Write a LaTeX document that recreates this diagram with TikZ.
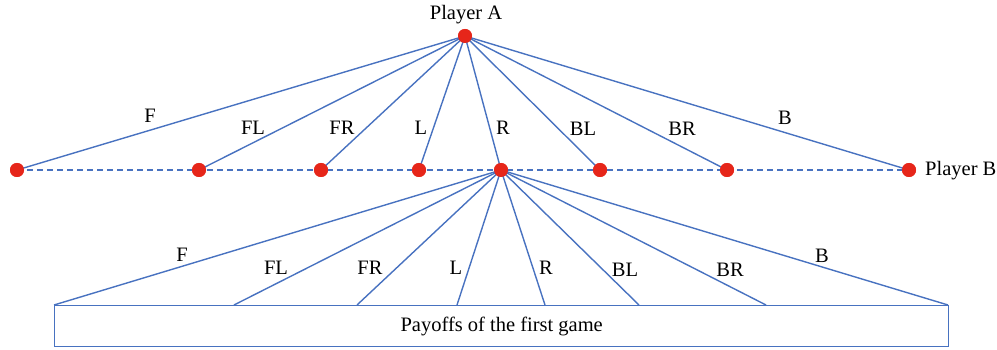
\documentclass[tikz,border=0pt]{standalone}
\usepackage{fontspec}
\setmainfont{Liberation Serif}
\begin{document}
\begin{tikzpicture}[x=1pt,y=-1pt,
  dot/.style={circle,fill=dotred,inner sep=0pt,minimum size=14pt},
  edge/.style={draw=lineblue,line width=1.4pt},
  lbl/.style={font=\fontsize{20.5}{24}\selectfont,inner sep=0pt},
  payoffbox/.style={draw=lineblue,line width=1.4pt,fill=white,minimum width=894pt,minimum height=41pt,inner sep=0pt,font=\fontsize{20.5}{24}\selectfont}]
\definecolor{lineblue}{RGB}{72,114,192}
\definecolor{dotred}{RGB}{230,38,26}
\useasboundingbox (0,0) rectangle (997,350);
% payoff box
\node[payoffbox,anchor=north west] (box) at (54,305) {Payoffs of the first game};
\coordinate (p1) at (54,305);
\coordinate (p2) at (234,305);
\coordinate (p3) at (357,305);
\coordinate (p4) at (457,305);
\coordinate (p5) at (545,305);
\coordinate (p6) at (639,305);
\coordinate (p7) at (766,305);
\coordinate (p8) at (948,305);
% nodes
\node[dot] (A) at (465,36) {};
\node[lbl] (Alab) at (466,15) {Player A};
\node[dot] (b1) at (17,170) {};
\node[dot] (b2) at (199,170) {};
\node[dot] (b3) at (321,170) {};
\node[dot] (b4) at (419,170) {};
\node[dot] (b5) at (501,170) {};
\node[dot] (b6) at (600,170) {};
\node[dot] (b7) at (727,170) {};
\node[dot] (b8) at (909,170) {};
\node[lbl,anchor=west] (Blab) at (925,171) {Player B};
% dashed info set
\draw[lineblue,line width=1.4pt,dash pattern=on 6pt off 4pt] (b1.center) -- (b8.center);
% top edges
\foreach \i in {1,...,8} {\draw[edge] (A.center) -- (b\i.center);}
% bottom edges
\foreach \i in {1,...,8} {\draw[edge] (b5.center) -- (p\i);}
% redraw dots on top
\foreach \n in {A,b1,b2,b3,b4,b5,b6,b7,b8} {\fill[dotred] (\n) circle (7pt);}
% top labels
\node[lbl] (t1) at (150,116) {F};
\node[lbl] (t2) at (253,128) {FL};
\node[lbl] (t3) at (342,128) {FR};
\node[lbl] (t4) at (421,128) {L};
\node[lbl] (t5) at (503,128) {R};
\node[lbl] (t6) at (583,129) {BL};
\node[lbl] (t7) at (682,129) {BR};
\node[lbl] (t8) at (785,118) {B};
% bottom labels
\node[lbl] (u1) at (182,255) {F};
\node[lbl] (u2) at (276,268) {FL};
\node[lbl] (u3) at (370,268) {FR};
\node[lbl] (u4) at (456,268) {L};
\node[lbl] (u5) at (546,268) {R};
\node[lbl] (u6) at (625,270) {BL};
\node[lbl] (u7) at (730,270) {BR};
\node[lbl] (u8) at (822,256) {B};
\end{tikzpicture}
\end{document}
